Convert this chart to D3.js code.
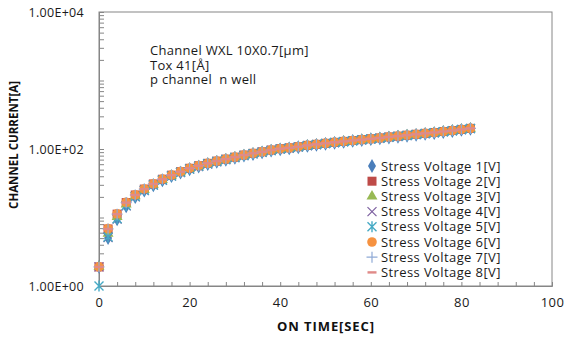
<!DOCTYPE html>
<html>
<head>
<meta charset="utf-8">
<script src="https://cdn.jsdelivr.net/npm/d3@7/dist/d3.min.js"></script>
<style>
  html, body { margin: 0; padding: 0; background: #fff; }
  svg { display: block; font-family: "Open Sans", "Noto Sans", sans-serif; }
</style>
</head>
<body>
<svg id="chart" width="566" height="338"></svg>
<script>
// ON time (seconds)
const onTime = [0, 2, 4, 6, 8, 10, 12, 14, 16, 18, 20, 22, 24, 26, 28, 30, 32, 34, 36, 38, 40,
  42, 44, 46, 48, 50, 52, 54, 56, 58, 60, 62, 64, 66, 68, 70, 72, 74, 76, 78, 80, 82];

// Channel current for each stress voltage
const stress1 = [1.9, 5.0, 9.4, 14.6, 19.8, 24.6, 29.5, 34.8, 40.1, 45.2, 50.6, 55.4, 60.2, 65.0, 69.6, 74.4, 79.8, 84.6, 89.2, 94.6, 99.0,
  102, 106, 111, 115, 119, 123, 127, 131, 135, 139, 143, 147, 151, 156, 161, 166, 171, 177, 183, 190, 197];
const stress2 = [1.9, 6.8, 11.2, 16.5, 21.3, 26.0, 30.9, 36.2, 41.5, 46.6, 52.3, 57.0, 61.8, 66.6, 71.2, 76.0, 81.6, 86.5, 91.0, 96.6, 101,
  104, 108, 113, 117, 121, 125, 129, 133, 137, 141, 145, 150, 154, 159, 164, 169, 174, 180, 186, 193, 200];
const stress3 = [1.9, 5.8, 10.2, 15.6, 20.6, 25.4, 30.2, 35.6, 40.9, 46.0, 51.6, 56.4, 61.2, 66.0, 70.6, 75.4, 81.0, 85.9, 90.4, 96.0, 100,
  103, 107, 112, 116, 120, 124, 128, 132, 136, 140, 144, 149, 153, 158, 163, 168, 173, 179, 185, 192, 199];
const stress4 = [1.9, 5.1, 9.5, 14.8, 20.0, 24.8, 29.7, 35.0, 40.3, 45.4, 50.9, 55.6, 60.4, 65.2, 69.9, 74.7, 80.2, 85.0, 89.6, 95.0, 99.5,
  102.5, 106.5, 111.5, 115.5, 119.5, 123.5, 127.5, 131.5, 135.5, 139.5, 143.5, 148, 152, 157, 162, 167, 172, 178, 184, 191, 198];
const stress5 = [1.0, 5.2, 9.6, 15.0, 20.2, 25.0, 29.9, 35.2, 40.5, 45.6, 51.2, 56.0, 60.8, 65.6, 70.2, 75.0, 80.5, 85.4, 90.0, 95.4, 100,
  103, 107, 112, 116, 120, 124, 128, 132, 136, 140, 144, 149, 153, 158, 163, 168, 173, 179, 185, 192, 199];
const stress6 = [1.9, 6.9, 11.3, 16.6, 21.4, 26.1, 31.0, 36.3, 41.6, 46.7, 52.4, 57.1, 61.9, 66.7, 71.3, 76.1, 81.7, 86.6, 91.1, 96.7, 101,
  104, 108, 113, 117, 121, 125, 129, 133, 137, 141, 145, 150, 154, 159, 164, 169, 174, 180, 186, 193, 200];
const stress7 = [1.9, 6.8, 11.2, 16.5, 21.3, 26.0, 30.9, 36.2, 41.5, 46.6, 52.3, 57.0, 61.8, 66.6, 71.2, 76.0, 81.6, 86.5, 91.0, 96.6, 101,
  104, 108, 113, 117, 121, 125, 129, 133, 137, 141, 145, 150, 154, 159, 164, 169, 174, 180, 186, 193, 200];
const stress8 = [1.9, 6.8, 11.2, 16.5, 21.3, 26.0, 30.9, 36.2, 41.5, 46.6, 52.3, 57.0, 61.8, 66.6, 71.2, 76.0, 81.6, 86.5, 91.0, 96.6, 101,
  104, 108, 113, 117, 121, 125, 129, 133, 137, 141, 145, 150, 154, 159, 164, 169, 174, 180, 186, 193, 200];

const seriesNames = ["Stress Voltage 1[V]", "Stress Voltage 2[V]", "Stress Voltage 3[V]", "Stress Voltage 4[V]",
  "Stress Voltage 5[V]", "Stress Voltage 6[V]", "Stress Voltage 7[V]", "Stress Voltage 8[V]"];
const seriesValues = [stress1, stress2, stress3, stress4, stress5, stress6, stress7, stress8];

const xTickLabels = [0, 20, 40, 60, 80, 100];
const yTickLabels = [1, 100, 10000];
const noteLines = ["Channel WXL 10X0.7[\u00b5m]", "Tox 41[\u00c5]", "p channel  n well"];

const colors = ["#4a7ebb", "#be4b48", "#98b954", "#7d60a0", "#46aac5", "#f69240", "#8faad6", "#e08a88"];
const shapes = ["diamond", "square", "triangle", "x", "asterisk", "circle", "plus", "dash"];

const svg = d3.select("#chart");
const plotLeft = 99, plotRight = 552, plotTop = 12, plotBottom = 286;
const x = d3.scaleLinear().domain([0, 100]).range([plotLeft, plotRight]);
const y = d3.scaleLog().domain([1, 10000]).range([plotBottom, plotTop]);
const axisColor = "#868686";
const textColor = "#1a1a1a";

// plot frame
svg.append("rect").attr("x", plotLeft).attr("y", plotTop)
  .attr("width", plotRight - plotLeft).attr("height", plotBottom - plotTop)
  .attr("fill", "none").attr("stroke", axisColor).attr("stroke-width", 1);

// x axis: inner ticks every 4 s, labels every 20 s
const xMinor = d3.range(0, 101, 4);
const gx = svg.append("g").attr("transform", `translate(0,${plotBottom})`)
  .call(d3.axisBottom(x).tickValues(xMinor).tickSize(-4).tickFormat(""));
gx.selectAll("path,line").attr("stroke", axisColor);
const gxl = svg.append("g").attr("transform", `translate(0,${plotBottom})`)
  .call(d3.axisBottom(x).tickValues(xTickLabels).tickSize(0).tickPadding(12).tickFormat(d3.format("d")));
gxl.select(".domain").remove();
gxl.selectAll("text").attr("font-size", 13).attr("fill", textColor).attr("font-family", "Open Sans, sans-serif")
  .attr("letter-spacing", 0.4);

// y axis: log ticks inside, labels every two decades
const yMinor = [];
[1, 10, 100, 1000].forEach(d => { for (let k = 1; k <= 9; k++) yMinor.push(d * k); });
yMinor.push(10000);
const gy = svg.append("g").attr("transform", `translate(${plotLeft},0)`)
  .call(d3.axisLeft(y).tickValues(yMinor).tickSize(-5).tickFormat(""));
gy.selectAll("path,line").attr("stroke", axisColor);
const gyl = svg.append("g").attr("transform", `translate(${plotLeft},0)`)
  .call(d3.axisLeft(y).tickValues(yTickLabels).tickSize(0).tickPadding(15)
    .tickFormat(d => d.toExponential(2).replace("e", "E").replace(/E\+(\d)$/, "E+0$1")));
gyl.select(".domain").remove();
gyl.selectAll("text").attr("font-size", 12.5).attr("fill", textColor).attr("font-family", "Open Sans, sans-serif")
  .attr("letter-spacing", 0.3);

// marker painter
function drawMarker(g, shape, color, cx, cy) {
  const sym = (type, size) => g.append("path").attr("d", d3.symbol().type(type).size(size)())
    .attr("transform", `translate(${cx},${cy})`);
  if (shape === "diamond") sym(d3.symbolDiamond, 55).attr("fill", color);
  else if (shape === "square") g.append("rect").attr("x", cx - 4.5).attr("y", cy - 4.5).attr("width", 9).attr("height", 9).attr("fill", color);
  else if (shape === "triangle") sym(d3.symbolTriangle, 52).attr("fill", color);
  else if (shape === "x") {
    g.append("path").attr("d", `M${cx - 4.5},${cy - 4.5}L${cx + 4.5},${cy + 4.5}M${cx - 4.5},${cy + 4.5}L${cx + 4.5},${cy - 4.5}`)
      .attr("stroke", color).attr("stroke-width", 1.2).attr("fill", "none");
  } else if (shape === "asterisk") {
    g.append("path").attr("d", `M${cx - 4.5},${cy - 4.5}L${cx + 4.5},${cy + 4.5}M${cx - 4.5},${cy + 4.5}L${cx + 4.5},${cy - 4.5}M${cx},${cy - 5.5}L${cx},${cy + 5.5}`)
      .attr("stroke", color).attr("stroke-width", 1.4).attr("fill", "none");
  } else if (shape === "circle") g.append("circle").attr("cx", cx).attr("cy", cy).attr("r", 4.8).attr("fill", color);
  else if (shape === "plus") {
    g.append("path").attr("d", `M${cx - 5.5},${cy}L${cx + 5.5},${cy}M${cx},${cy - 5.5}L${cx},${cy + 5.5}`)
      .attr("stroke", color).attr("stroke-width", 1.2).attr("fill", "none");
  } else if (shape === "dash") {
    g.append("rect").attr("x", cx - 4.5).attr("y", cy - 1.2).attr("width", 9).attr("height", 2.4).attr("fill", color);
  }
}

// data points
const plot = svg.append("g");
seriesValues.forEach((vals, i) => {
  const g = plot.append("g");
  vals.forEach((v, j) => drawMarker(g, shapes[i], colors[i], x(onTime[j]), y(v)));
});

// legend
const legend = svg.append("g");
seriesNames.forEach((name, i) => {
  const ly = 166 + i * 15.2;
  drawMarker(legend, shapes[i], colors[i], 372, ly);
  legend.append("text").attr("x", 381).attr("y", ly + 4.5).attr("font-size", 13).attr("fill", textColor)
    .attr("letter-spacing", 0.4).text(name);
});

// notes
noteLines.forEach((t, i) => {
  svg.append("text").attr("x", 150).attr("y", 55 + i * 14.5).attr("font-size", 13).attr("fill", textColor)
    .attr("letter-spacing", 0.3).style("white-space", "pre").text(t);
});

// axis titles
svg.append("text").attr("x", 326).attr("y", 331).attr("text-anchor", "middle")
  .attr("font-size", 13).attr("font-weight", "bold").attr("fill", "#111").attr("letter-spacing", 0.9)
  .text("ON TIME[SEC]");
svg.append("text").attr("transform", "translate(18,145) rotate(-90)").attr("text-anchor", "middle")
  .attr("font-size", 11.5).attr("font-weight", "bold").attr("fill", "#111").text("CHANNEL CURRENT[A]");
</script>
</body>
</html>
